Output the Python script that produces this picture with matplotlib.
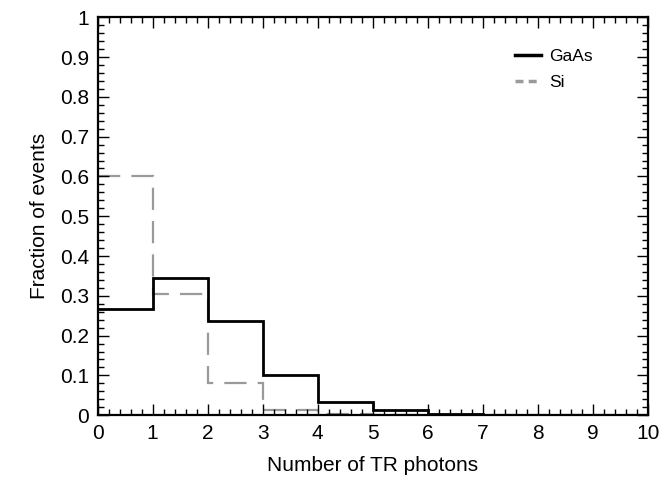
import numpy as np
import matplotlib.pyplot as plt
from matplotlib.lines import Line2D
from matplotlib.ticker import MultipleLocator

plt.rcParams['font.family'] = ['Liberation Sans', 'DejaVu Sans']

# bin edges (number of TR photons) and fractions per bin
edges = [0, 1, 2, 3, 4, 5, 6, 7, 8, 9, 10]
gaas = [0.266, 0.344, 0.237, 0.102, 0.034, 0.012, 0.003, 0.0, 0.0, 0.0]
si = [0.600, 0.305, 0.080, 0.012, 0.004, 0.001, 0.0, 0.0, 0.0, 0.0]
yticks = [0, 0.1, 0.2, 0.3, 0.4, 0.5, 0.6, 0.7, 0.8, 0.9, 1]
ylabels = ['0', '0.1', '0.2', '0.3', '0.4', '0.5', '0.6', '0.7', '0.8', '0.9', '1']

fig = plt.figure(figsize=(6.64, 4.8), dpi=100)
ax = fig.add_axes([0.147, 0.135, 0.829, 0.829])

# Si histogram (gray long dashes) under the GaAs one
ax.stairs(si, edges, baseline=None, color='#9a9a9a', lw=1.6,
          linestyle=(0, (10, 5)))
ax.stairs(gaas, edges, baseline=None, color='black', lw=2.0)

ax.set_xlim(0, 10)
ax.set_ylim(0, 1)
ax.xaxis.set_major_locator(MultipleLocator(1))
ax.xaxis.set_minor_locator(MultipleLocator(0.2))
ax.set_yticks(yticks)
ax.set_yticklabels(ylabels)
ax.yaxis.set_minor_locator(MultipleLocator(0.02))

ax.tick_params(which='both', direction='in', top=True, right=True,
               labelsize=15, width=1.0, color='black')
ax.tick_params(which='major', length=8, pad=6)
ax.tick_params(which='minor', length=4)
for s in ax.spines.values():
    s.set_linewidth(1.6)

ax.set_xlabel('Number of TR photons', fontsize=15, labelpad=10)
ax.set_ylabel('Fraction of events', fontsize=15, labelpad=8)

# legend
handles = [Line2D([], [], color='black', lw=2.5),
           Line2D([], [], color='#9a9a9a', lw=2.5, linestyle=(0, (2.3, 1.5)))]
ax.legend(handles, ['GaAs', 'Si'], loc='upper left',
          bbox_to_anchor=(0.758, 0.92), borderaxespad=0, borderpad=0,
          frameon=False, fontsize=12.5, handlelength=1.5, handletextpad=0.45,
          labelspacing=0.6)

fig.savefig('out.png', dpi=100)
